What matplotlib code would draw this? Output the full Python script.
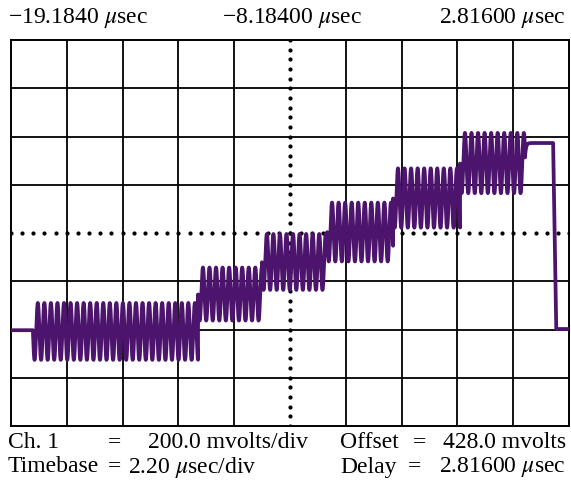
import numpy as np
import matplotlib
matplotlib.use("Agg")
import matplotlib.pyplot as plt

plt.rcParams["font.family"] = ["Liberation Serif", "DejaVu Serif"]
plt.rcParams["mathtext.fontset"] = "stix"

# scope settings
T_LEFT, T_RIGHT = -19.184, 2.816      # usec
T_DIV = 2.20                          # usec/div
V_DIV = 200.0                         # mV/div
V_OFFSET = 428.0                      # mV at screen centre

# staircase steps (usec, mV)
step_start = [-18.32, -11.81, -9.29, -6.72, -4.12, -1.48]
step_end   = [-11.81, -9.29, -6.72, -4.12, -1.48, 1.08]
step_level = [20.0, 175.0, 308.0, 432.0, 573.0, 718.0]
ripple_amp = [118.0, 110.0, 116.0, 122.0, 123.0, 125.0]
ripple_period = 0.258                 # usec

baseline = 25.0
top_level = 801.0
top_end = 2.19
fall_end = 2.31
final_level = 30.0

t = np.linspace(T_LEFT, T_RIGHT, 30000)
v = np.full_like(t, baseline)
for s, e, lvl, a in zip(step_start, step_end, step_level, ripple_amp):
    m = (t >= s) & (t < e)
    v[m] = lvl - a * np.sin(2 * np.pi * (t[m] - s) / ripple_period)
# settle to the top level, hold, then fall back
m = (t >= step_end[-1]) & (t < top_end)
v[m] = top_level - 60 * np.exp(-(t[m] - step_end[-1]) / 0.04)
m = (t >= top_end) & (t < fall_end)
v[m] = top_level + (final_level - top_level) * (t[m] - top_end) / (fall_end - top_end)
v[t >= fall_end] = final_level

fig = plt.figure(figsize=(5.71, 4.83), dpi=100)
ax = fig.add_axes([11 / 571, 1 - 426 / 483, 558 / 571, 386 / 483])
ax.set_xlim(T_LEFT, T_RIGHT)
ax.set_ylim(V_OFFSET - 4 * V_DIV, V_OFFSET + 4 * V_DIV)

t_mid = (T_LEFT + T_RIGHT) / 2
xg = T_LEFT + T_DIV * np.arange(11)
yg = V_OFFSET + V_DIV * np.arange(-4, 5)
for x in xg[1:-1]:
    if abs(x - t_mid) > 1e-6:
        ax.axvline(x, color="black", lw=1.3, zorder=1)
for y in yg[1:-1]:
    if abs(y - V_OFFSET) > 1e-6:
        ax.axhline(y, color="black", lw=1.3, zorder=1)

# dotted centre graticule
xd = T_LEFT + T_DIV / 5 * np.arange(51)
yd = V_OFFSET - 4 * V_DIV + V_DIV / 5 * np.arange(41)
ax.plot(xd, np.full_like(xd, V_OFFSET), ls="none", marker="o", ms=2.0,
        color="black", zorder=1)
ax.plot(np.full_like(yd, t_mid), yd, ls="none", marker="o", ms=2.0,
        color="black", zorder=1)

ax.plot(t, v, color="#4c146c", lw=2.7, solid_joinstyle="round", zorder=3)

ax.set_xticks([])
ax.set_yticks([])
for sp in ax.spines.values():
    sp.set_linewidth(1.4)
    sp.set_color("black")

fs = 17
def px(x, y):
    return x / 571, 1 - y / 483

fig.text(*px(8, 18), "\u221219.1840 $\\mu$sec", fontsize=fs, ha="left", va="center")
fig.text(*px(292, 18), "\u22128.18400 $\\mu$sec", fontsize=fs, ha="center", va="center")
fig.text(*px(566, 18), "2.81600 $\\mu$sec", fontsize=fs, ha="right", va="center")

# footer: (y, label, value, x of "=" / value)
left_col = [(443, "Ch. 1", "200.0 mvolts/div", 148),
            (467, "Timebase", "2.20 $\\mu$sec/div", 128)]
right_col = [(443, "Offset", "428.0 mvolts", 413),
             (467, "Delay", "2.81600 $\\mu$sec", 408)]
for y, lab, val, vx in left_col:
    fig.text(*px(8, y), lab, fontsize=fs, va="center")
    fig.text(*px(108, y), "=", fontsize=fs, va="center")
    fig.text(*px(vx, y), val, fontsize=fs, va="center")
for y, lab, val, ex in right_col:
    fig.text(*px(340, y), lab, fontsize=fs, va="center")
    fig.text(*px(ex, y), "=", fontsize=fs, va="center")
    fig.text(*px(566, y), val, fontsize=fs, va="center", ha="right")

fig.savefig("out.png", dpi=100)
